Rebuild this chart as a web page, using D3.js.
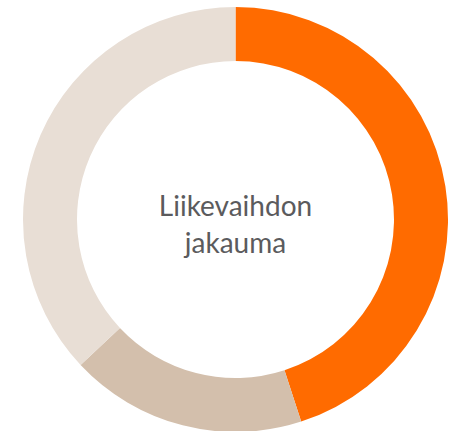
<!DOCTYPE html>
<html>
<head>
<meta charset="utf-8">
<script src="https://cdn.jsdelivr.net/npm/d3@7"></script>
<style>
  html, body { margin: 0; padding: 0; background: #fff; }
</style>
</head>
<body>
<div id="chart"></div>
<script>
// osuudet liikevaihdosta (arvioitu kuvasta)
const labels = ["A", "B", "C"];
const values = [45, 18, 37];
const colors = ["#ff6b00", "#d3bfac", "#e8ded5"];
const title = ["Liikevaihdon", "jakauma"];

const width = 457, height = 431;
const cx = 235.5, cy = 219.5;
const outerR = 212.5, innerR = 158.5;

const svg = d3.select("#chart")
  .append("svg")
  .attr("width", width)
  .attr("height", height);

const g = svg.append("g")
  .attr("transform", `translate(${cx}, ${cy})`);

const pie = d3.pie()
  .value(d => d)
  .sort(null);

const arc = d3.arc()
  .innerRadius(innerR)
  .outerRadius(outerR);

g.selectAll("path")
  .data(pie(values))
  .enter()
  .append("path")
  .attr("d", arc)
  .attr("fill", (d, i) => colors[i]);

// keskiteksti
g.selectAll(".title")
  .data(title)
  .enter()
  .append("text")
  .attr("class", "title")
  .attr("x", 0)
  .attr("y", (d, i) => -4 + i * 37)
  .attr("text-anchor", "middle")
  .attr("fill", "#5b5b5d")
  .style("font-family", "Lato, 'Open Sans', sans-serif")
  .style("font-size", "28px")
  .text(d => d);
</script>
</body>
</html>
